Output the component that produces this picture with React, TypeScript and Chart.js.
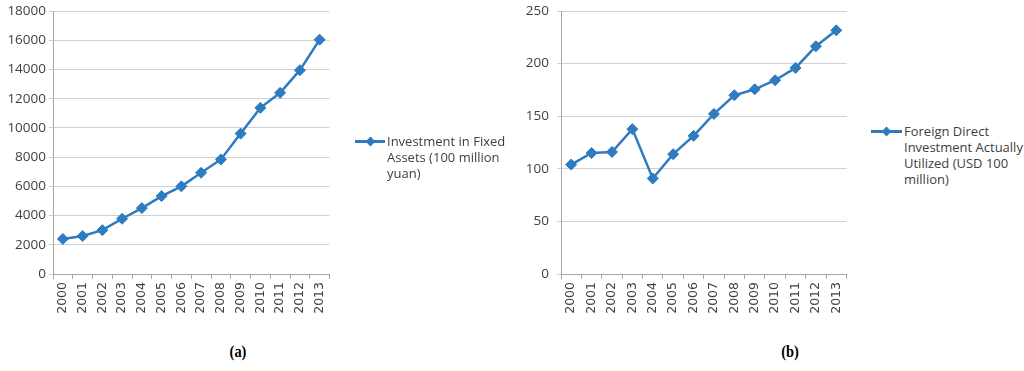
import React, { useEffect, useRef } from "react";
import { Chart, registerables } from "chart.js";

Chart.register(...registerables);

const years = ["2000", "2001", "2002", "2003", "2004", "2005", "2006", "2007", "2008", "2009", "2010", "2011", "2012", "2013"];
const fixedAssets = [2400, 2600, 3000, 3780, 4510, 5330, 6000, 6930, 7840, 9610, 11370, 12400, 13950, 16040];
const fdiUtilized = [104, 115, 116, 137.7, 90.8, 113.9, 131.3, 152.2, 169.9, 175.6, 184.2, 195.9, 216.5, 231.6];

const legendA = ["Investment in Fixed", "Assets (100 million", "yuan)"];
const legendB = ["Foreign Direct", "Investment Actually", "Utilized (USD 100", "million)"];

const LINE_COLOR = "#2E7BC0";
const GRID_COLOR = "#D0D0D0";
const AXIS_COLOR = "#A6A6A6";
const TEXT_COLOR = "#404040";

type PanelProps = {
  data: number[];
  label: string;
  max: number;
  step: number;
  left: number;
  width: number;
  yWidth: number;
  yPad: number;
  padTop: number;
};

function Panel({ data, label, max, step, left, width, yWidth, yPad, padTop }: PanelProps) {
  const ref = useRef<HTMLCanvasElement | null>(null);
  useEffect(() => {
    if (!ref.current) return;
    const chart = new Chart(ref.current, {
      type: "line",
      data: {
        labels: years,
        datasets: [
          {
            label,
            data,
            borderColor: LINE_COLOR,
            backgroundColor: LINE_COLOR,
            borderWidth: 2.5,
            pointStyle: "rectRot",
            pointRadius: 5.5,
            pointBorderWidth: 1,
            pointBackgroundColor: LINE_COLOR,
            pointBorderColor: LINE_COLOR,
            tension: 0,
          },
        ],
      },
      options: {
        responsive: false,
        animation: false,
        devicePixelRatio: 1,
        layout: { padding: { top: padTop, right: 3, left: 0, bottom: 0 } },
        plugins: { legend: { display: false }, tooltip: { enabled: false } },
        scales: {
          x: {
            offset: true,
            grid: {
              offset: true,
              drawOnChartArea: false,
              tickLength: 5,
              color: AXIS_COLOR,
            },
            border: { display: true, color: AXIS_COLOR },
            ticks: {
              autoSkip: false,
              minRotation: 90,
              maxRotation: 90,
              padding: 3,
              color: TEXT_COLOR,
              font: { family: "DejaVu Sans", size: 12.5 },
            },
            afterFit: (scale: any) => {
              scale.height = 56;
              scale.paddingLeft = 0;
              scale.paddingRight = 0;
              scale.paddingTop = 0;
              scale.paddingBottom = 0;
            },
          },
          y: {
            min: 0,
            max,
            ticks: {
              stepSize: step,
              padding: yPad,
              color: TEXT_COLOR,
              font: { family: "Open Sans", size: 13.5 },
              callback: (v: any) => String(v),
            },
            grid: { color: GRID_COLOR, tickLength: 4, lineWidth: 1 },
            border: { display: true, color: AXIS_COLOR },
            afterFit: (scale: any) => {
              scale.width = yWidth;
              scale.paddingTop = 0;
              scale.paddingBottom = 0;
              scale.paddingLeft = 0;
              scale.paddingRight = 0;
            },
          },
        },
      },
    });
    return () => chart.destroy();
  }, []);
  return (
    <canvas
      ref={ref}
      width={width}
      height={330}
      style={{ position: "absolute", left, top: 0, width, height: 330 }}
    />
  );
}

function Legend({ lines, left, top, lineLeft }: { lines: string[]; left: number; top: number; lineLeft: number }) {
  return (
    <>
      <div
        style={{
          position: "absolute",
          left: lineLeft,
          top: top + 7,
          width: left - lineLeft - 2,
          height: 3,
          background: LINE_COLOR,
        }}
      />
      <div
        style={{
          position: "absolute",
          left: (lineLeft + left - 2) / 2 - 3.5,
          top: top + 5,
          width: 7,
          height: 7,
          background: LINE_COLOR,
          transform: "rotate(45deg)",
        }}
      />
      <div
        style={{
          position: "absolute",
          left,
          top,
          fontFamily: "Open Sans",
          fontSize: 13,
          lineHeight: "16px",
          color: TEXT_COLOR,
          whiteSpace: "nowrap",
        }}
      >
        {lines.map((l, i) => (
          <div key={i}>{l}</div>
        ))}
      </div>
    </>
  );
}

const captionStyle: React.CSSProperties = {
  position: "absolute",
  top: 352,
  transform: "translate(-50%, -50%) scaleX(0.85)",
  fontFamily: "Liberation Serif",
  fontWeight: "bold",
  fontSize: 17,
  color: "#000",
};

export default function App() {
  return (
    <div
      style={{
        position: "absolute",
        left: 0,
        top: 0,
        width: 1024,
        height: 371,
        background: "#fff",
        overflow: "hidden",
      }}
    >
      <Panel data={fixedAssets} label="Investment in Fixed Assets (100 million yuan)" max={18000} step={2000} left={0} width={336} yWidth={53} yPad={3} padTop={11} />
      <Panel data={fdiUtilized} label="Foreign Direct Investment Actually Utilized (USD 100 million)" max={250} step={50} left={500} width={353} yWidth={61} yPad={8} padTop={11} />
      <Legend lines={legendA} left={387} top={133} lineLeft={355} />
      <Legend lines={legendB} left={904} top={123} lineLeft={871} />
      <div style={{ ...captionStyle, left: 238 }}>(a)</div>
      <div style={{ ...captionStyle, left: 790 }}>(b)</div>
    </div>
  );
}
